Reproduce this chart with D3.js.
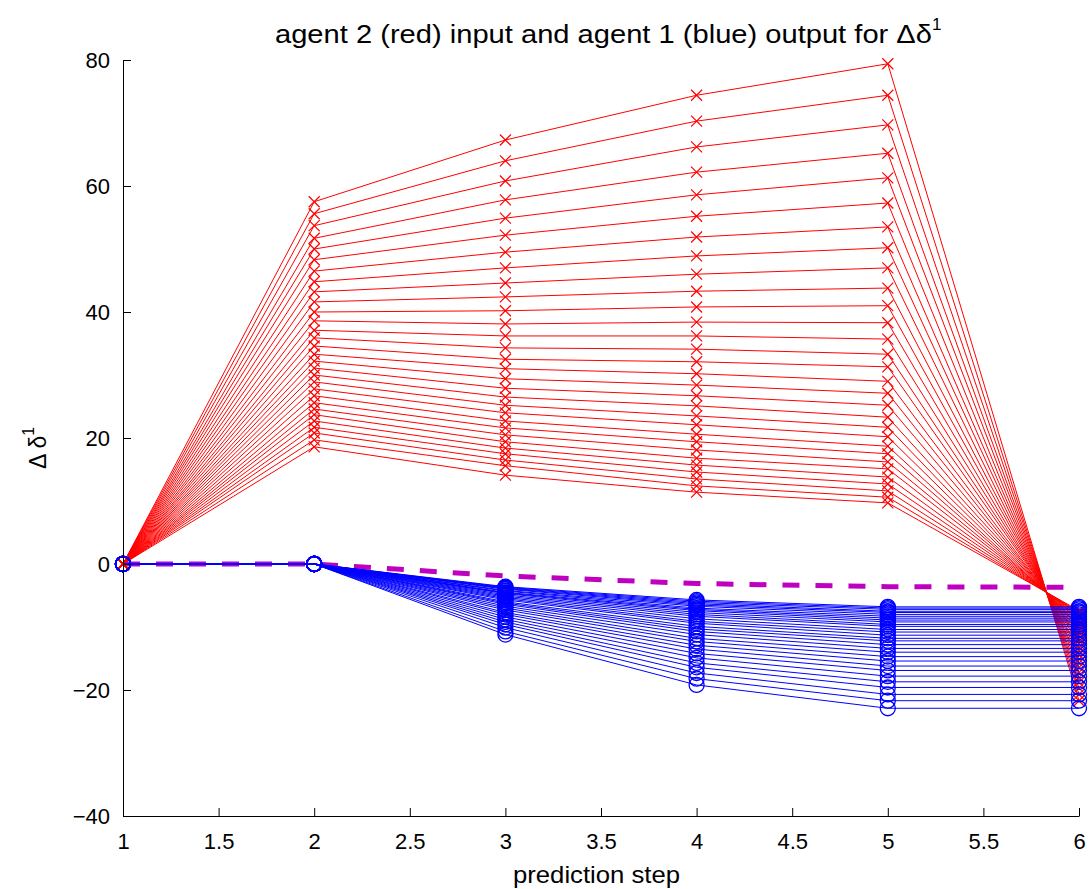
<!DOCTYPE html>
<html lang="en">
<head>
<meta charset="UTF-8">
<title>agent 2 input and agent 1 output</title>
<script src="https://d3js.org/d3.v7.min.js"></script>
<style>
    body { margin: 0; background: #fff; }
    text { font-family: "Liberation Sans", Arial, Helvetica, sans-serif; }
</style>
</head>
<body>
<div id="chart"></div>
<script>
// prediction steps on the x axis
var steps = [1, 2, 3, 4, 5, 6];
var xTicks = [1, 1.5, 2, 2.5, 3, 3.5, 4, 4.5, 5, 5.5, 6];
var yTicks = [-40, -20, 0, 20, 40, 60, 80];

// red (agent 2 input), one entry per run, value at each step (step 1 is 0)
var red2 = [57.5, 55.6, 53.7, 51.7, 50.0, 48.3, 46.5, 44.8, 43.2, 41.6,
            40.0, 38.6, 37.1, 35.9, 34.6, 33.3, 32.2, 31.1, 30.0, 28.9,
            27.8, 26.7, 25.6, 24.6, 23.7, 22.7, 21.7, 20.8, 19.7, 18.6];
var red3 = [67.3, 64.0, 60.8, 57.8, 54.9, 52.2, 49.5, 47.0, 44.6, 42.4,
            40.2, 38.1, 36.2, 34.3, 32.5, 31.0, 29.4, 27.9, 26.5, 25.2,
            24.0, 22.7, 21.6, 20.5, 19.4, 18.4, 17.5, 16.5, 15.6, 14.1];
var red4 = [74.4, 70.3, 66.2, 62.2, 58.6, 55.2, 51.9, 48.9, 46.0, 43.3,
            40.8, 38.4, 36.2, 34.1, 32.1, 30.2, 28.4, 26.7, 25.1, 23.5,
            22.1, 20.6, 19.4, 18.1, 16.8, 15.7, 14.6, 13.5, 12.4, 11.4];
var red5 = [79.4, 74.4, 69.7, 65.2, 61.3, 57.3, 53.5, 50.2, 47.0, 43.8,
            41.0, 38.3, 35.7, 33.3, 31.3, 29.0, 27.1, 25.2, 23.3, 21.7,
            20.2, 18.7, 17.5, 16.2, 15.1, 13.8, 12.7, 11.6, 10.6, 9.7];
var red6 = [-21.7, -20.7, -19.7, -18.8, -18.0, -17.2, -16.4, -15.7, -15.1, -14.4,
            -13.8, -13.3, -12.7, -12.2, -11.8, -11.4, -11.0, -10.6, -10.2, -9.9,
            -9.6, -9.3, -9.0, -8.7, -8.5, -8.2, -8.0, -7.8, -7.6, -7.4];

// blue (agent 1 output), steps 1 and 2 are 0, step 6 stays at the step 5 value
var blue3 = [-11.2, -10.7, -10.1, -9.6, -9.2, -8.8, -8.4, -8.0, -7.7, -7.3,
             -7.0, -6.7, -6.4, -6.2, -6.0, -5.7, -5.5, -5.3, -5.1, -4.9,
             -4.7, -4.6, -4.5, -4.3, -4.2, -4.0, -3.9, -3.8, -3.7, -3.6];
var blue4 = [-19.2, -18.2, -17.3, -16.4, -15.7, -14.9, -14.2, -13.5, -12.9, -12.3,
             -11.8, -11.2, -10.7, -10.3, -9.9, -9.4, -9.1, -8.7, -8.3, -8.0,
             -7.7, -7.4, -7.2, -7.0, -6.7, -6.5, -6.3, -6.1, -5.9, -5.7];
var blue5 = [-22.9, -21.7, -20.7, -19.6, -18.7, -17.8, -16.9, -16.2, -15.4, -14.7,
             -14.0, -13.4, -12.8, -12.2, -11.8, -11.3, -10.8, -10.4, -9.9, -9.6,
             -9.2, -8.9, -8.6, -8.3, -8.0, -7.7, -7.5, -7.2, -7.0, -6.8];

// magenta dashed reference
var magenta = [0, 0, -1.9, -3.1, -3.6, -3.7];

var margin = {top: 60, right: 13, bottom: 73, left: 123},
    width = 1092 - margin.left - margin.right,
    height = 889 - margin.top - margin.bottom;

var svg = d3.select("#chart")
  .append("svg")
    .attr("width", 1092)
    .attr("height", 889)
    .style("background", "#fff");

var g = svg.append("g")
    .attr("transform", "translate(" + margin.left + "," + margin.top + ")");

var x = d3.scaleLinear().domain([1, 6]).range([0, width]);
var y = d3.scaleLinear().domain([-40, 80]).range([height, 0]);

// build the runs from the step arrays
var redRuns = red2.map(function(d, i) {
    return [0, red2[i], red3[i], red4[i], red5[i], red6[i]];
});
var blueRuns = blue3.map(function(d, i) {
    return [0, 0, blue3[i], blue4[i], blue5[i], blue5[i]];
});

var line = d3.line()
    .x(function(d, i) { return x(steps[i]); })
    .y(function(d) { return y(d); });

// magenta dashed line
g.append("path")
    .datum(magenta)
    .attr("d", line)
    .attr("fill", "none")
    .attr("stroke", "#bf00bf")
    .attr("stroke-width", 5)
    .attr("stroke-dasharray", "17,16");

// red lines and x markers
var redG = g.append("g");
redRuns.forEach(function(run) {
    redG.append("path")
        .datum(run)
        .attr("d", line)
        .attr("fill", "none")
        .attr("stroke", "#ff0000")
        .attr("stroke-width", 1);
    redG.selectAll(null)
        .data(run)
        .enter()
        .append("path")
        .attr("transform", function(d, i) { return "translate(" + x(steps[i]) + "," + y(d) + ")"; })
        .attr("d", "M-5.5,-5.5L5.5,5.5M-5.5,5.5L5.5,-5.5")
        .attr("stroke", "#ff0000")
        .attr("stroke-width", 1.2)
        .attr("fill", "none");
});

// blue lines and circle markers
var blueG = g.append("g");
blueRuns.forEach(function(run) {
    blueG.append("path")
        .datum(run)
        .attr("d", line)
        .attr("fill", "none")
        .attr("stroke", "#0000ff")
        .attr("stroke-width", 1);
    blueG.selectAll(null)
        .data(run)
        .enter()
        .append("circle")
        .attr("cx", function(d, i) { return x(steps[i]); })
        .attr("cy", function(d) { return y(d); })
        .attr("r", 7.5)
        .attr("fill", "none")
        .attr("stroke", "#0000ff")
        .attr("stroke-width", 1.3);
});

// axes, ticks point inward like the original
var xAxis = g.append("g")
    .attr("transform", "translate(0," + height + ")")
    .call(d3.axisBottom(x).tickValues(xTicks).tickFormat(d3.format("")).tickSize(-8).tickSizeOuter(0).tickPadding(17));
var yAxis = g.append("g")
    .call(d3.axisLeft(y).tickValues(yTicks).tickFormat(function(d) { return d < 0 ? "\u2212" + Math.abs(d) : d; }).tickSize(-8).tickSizeOuter(0).tickPadding(13));

[xAxis, yAxis].forEach(function(a) {
    a.selectAll("text")
        .style("font-size", "22px")
        .style("font-family", "'Liberation Sans', Arial, sans-serif")
        .attr("fill", "#000");
    a.selectAll("line").attr("stroke", "#000");
    a.select(".domain").attr("stroke", "#000");
});

// title
var title = svg.append("text")
    .attr("x", 275)
    .attr("y", 43)
    .style("font-size", "25px");
title.append("tspan")
    .attr("textLength", 657)
    .attr("lengthAdjust", "spacingAndGlyphs")
    .text("agent 2 (red) input and agent 1 (blue) output for \u0394\u03b4");
title.append("tspan").attr("dy", -13).style("font-size", "17px").text("1");

// x label
svg.append("text")
    .attr("x", 513)
    .attr("y", 883)
    .attr("textLength", 167)
    .attr("lengthAdjust", "spacingAndGlyphs")
    .style("font-size", "24px")
    .text("prediction step");

// y label
var ylab = svg.append("text")
    .attr("transform", "translate(46," + (margin.top + height / 2 + 10) + ")rotate(-90)")
    .attr("text-anchor", "middle")
    .style("font-size", "23px");
ylab.append("tspan").text("\u0394 \u03b4");
ylab.append("tspan").attr("dy", -12).style("font-size", "16px").text("1");
</script>
</body>
</html>
